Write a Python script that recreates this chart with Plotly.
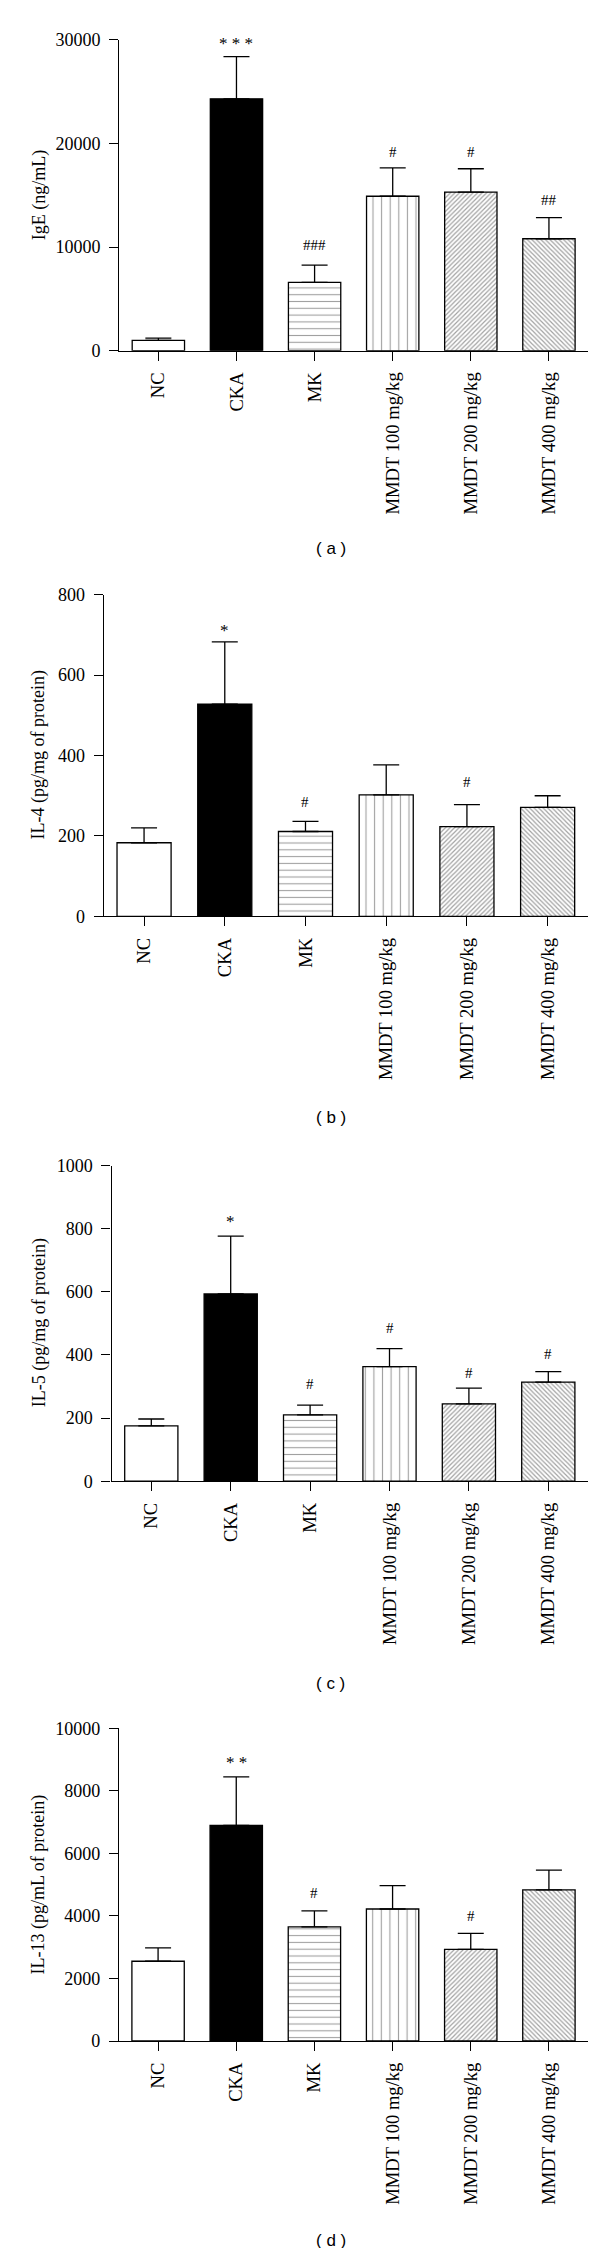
import plotly.graph_objects as go

categories = ["NC", "CKA", "MK", "MMDT 100 mg/kg", "MMDT 200 mg/kg", "MMDT 400 mg/kg"]

ige = [1000, 24300, 6600, 14900, 15300, 10800]
ige_err = [220, 4060, 1650, 2730, 2250, 2030]
ige_sig = ["", "* * *", "###", "#", "#", "##"]
ige_sig_y = [None, 30000, 10225, 19170, 19170, 14570]

il4 = [183, 528, 211, 302, 223, 271]
il4_err = [37, 155, 25, 75, 55, 29]
il4_sig = ["", "*", "#", "", "#", ""]
il4_sig_y = [None, 722, 285, None, 334, None]

il5 = [175, 593, 210, 363, 245, 314]
il5_err = [22, 183, 31, 57, 50, 33]
il5_sig = ["", "*", "#", "#", "#", "#"]
il5_sig_y = [None, 836, 307, 484, 343, 403]

il13 = [2550, 6895, 3650, 4220, 2930, 4830]
il13_err = [430, 1550, 510, 745, 510, 630]
il13_sig = ["", "* *", "#", "", "#", ""]
il13_sig_y = [None, 9047, 4716, None, 3983, None]

y_titles = ["IgE (ng/mL)", "IL-4 (pg/mg of protein)", "IL-5 (pg/mg of protein)",
            "IL-13 (pg/mL of protein)"]
y_maxes = [30000, 800, 1000, 10000]
y_dticks = [10000, 200, 200, 2000]
captions = ["( a )", "( b )", "( c )", "( d )"]

W, H = 600, 2248
# panel geometry in pixels: (y-axis x, right end x, top y, zero y, caption y)
panels_px = [
    (111.3, 580, 31.7, 342.7, 540),
    (95.7, 580, 586.8, 908.3, 1110),
    (103.6, 580, 1157.5, 1473.2, 1675),
    (111.0, 580, 1720.2, 2033.0, 2232),
]

bar_colors = ["white", "black", "white", "white", "white", "white"]
pat_shapes = ["", "", "-", "|", "/", "\\"]
pat_sizes = [8, 8, 6.8, 8.6, 3.2, 3.2]
pat_solid = [0.3, 0.3, 0.16, 0.13, 0.38, 0.38]

values = [ige, il4, il5, il13]
errors = [ige_err, il4_err, il5_err, il13_err]
sigs = [ige_sig, il4_sig, il5_sig, il13_sig]
sig_ys = [ige_sig_y, il4_sig_y, il5_sig_y, il13_sig_y]

SERIF = "Liberation Serif"
fig = go.Figure()
layout = dict(width=W, height=H, margin=dict(l=0, r=0, t=0, b=0),
              paper_bgcolor="white", plot_bgcolor="white", showlegend=False,
              annotations=[])

for i in range(4):
    xa = "x" if i == 0 else f"x{i+1}"
    ya = "y" if i == 0 else f"y{i+1}"
    fig.add_trace(go.Bar(
        x=categories, y=values[i], xaxis=xa, yaxis=ya, width=0.67,
        marker=dict(color=bar_colors, line=dict(color="black", width=1.3),
                    pattern=dict(shape=pat_shapes, fgcolor="black",
                                 size=pat_sizes, solidity=pat_solid)),
        error_y=dict(type="data", array=errors[i], arrayminus=[0] * 6,
                     symmetric=False, color="black", thickness=1.3, width=13),
    ))
    x0, x1, ytop, yzero, ycap = panels_px[i]
    axis_common = dict(showline=True, linecolor="black", linewidth=1.3,
                       ticks="outside", ticklen=9, tickwidth=1.3, tickcolor="black",
                       showgrid=False, zeroline=False, automargin=False)
    layout["xaxis" if i == 0 else f"xaxis{i+1}"] = dict(
        axis_common, domain=[x0 / W, x1 / W], anchor=ya, type="category",
        range=[-0.5, 5.5], tickangle=-90, ticklabelstandoff=4,
        tickfont=dict(family=SERIF, size=18.6, color="black"))
    layout["yaxis" if i == 0 else f"yaxis{i+1}"] = dict(
        axis_common, domain=[1 - yzero / H, 1 - ytop / H], anchor=xa,
        range=[0, y_maxes[i]], tickmode="linear", tick0=0, dtick=y_dticks[i],
        tickformat="d", ticklabelstandoff=5,
        tickfont=dict(family=SERIF, size=18, color="black"))
    layout["annotations"].append(dict(
        text=y_titles[i], xref="paper", yref="paper", x=31 / W,
        y=1 - (ytop + yzero) / 2 / H, textangle=-90, showarrow=False,
        font=dict(family=SERIF, size=18, color="black"),
        xanchor="center", yanchor="middle"))
    layout["annotations"].append(dict(
        text=captions[i], xref="paper", yref="paper", x=322.7 / W,
        y=1 - ycap / H, showarrow=False,
        font=dict(family="Liberation Sans", size=17, color="black"),
        xanchor="center", yanchor="middle"))
    for c, s, sy in zip(categories, sigs[i], sig_ys[i]):
        if s:
            star = "*" in s
            layout["annotations"].append(dict(
                text=s, x=c, y=sy, xref=xa, yref=ya, showarrow=False,
                font=dict(family=SERIF, size=17 if star else 15, color="black"),
                xanchor="center", yanchor="middle", yshift=-4 if star else 0))

fig.update_layout(**layout)
fig.write_html("out.html")
